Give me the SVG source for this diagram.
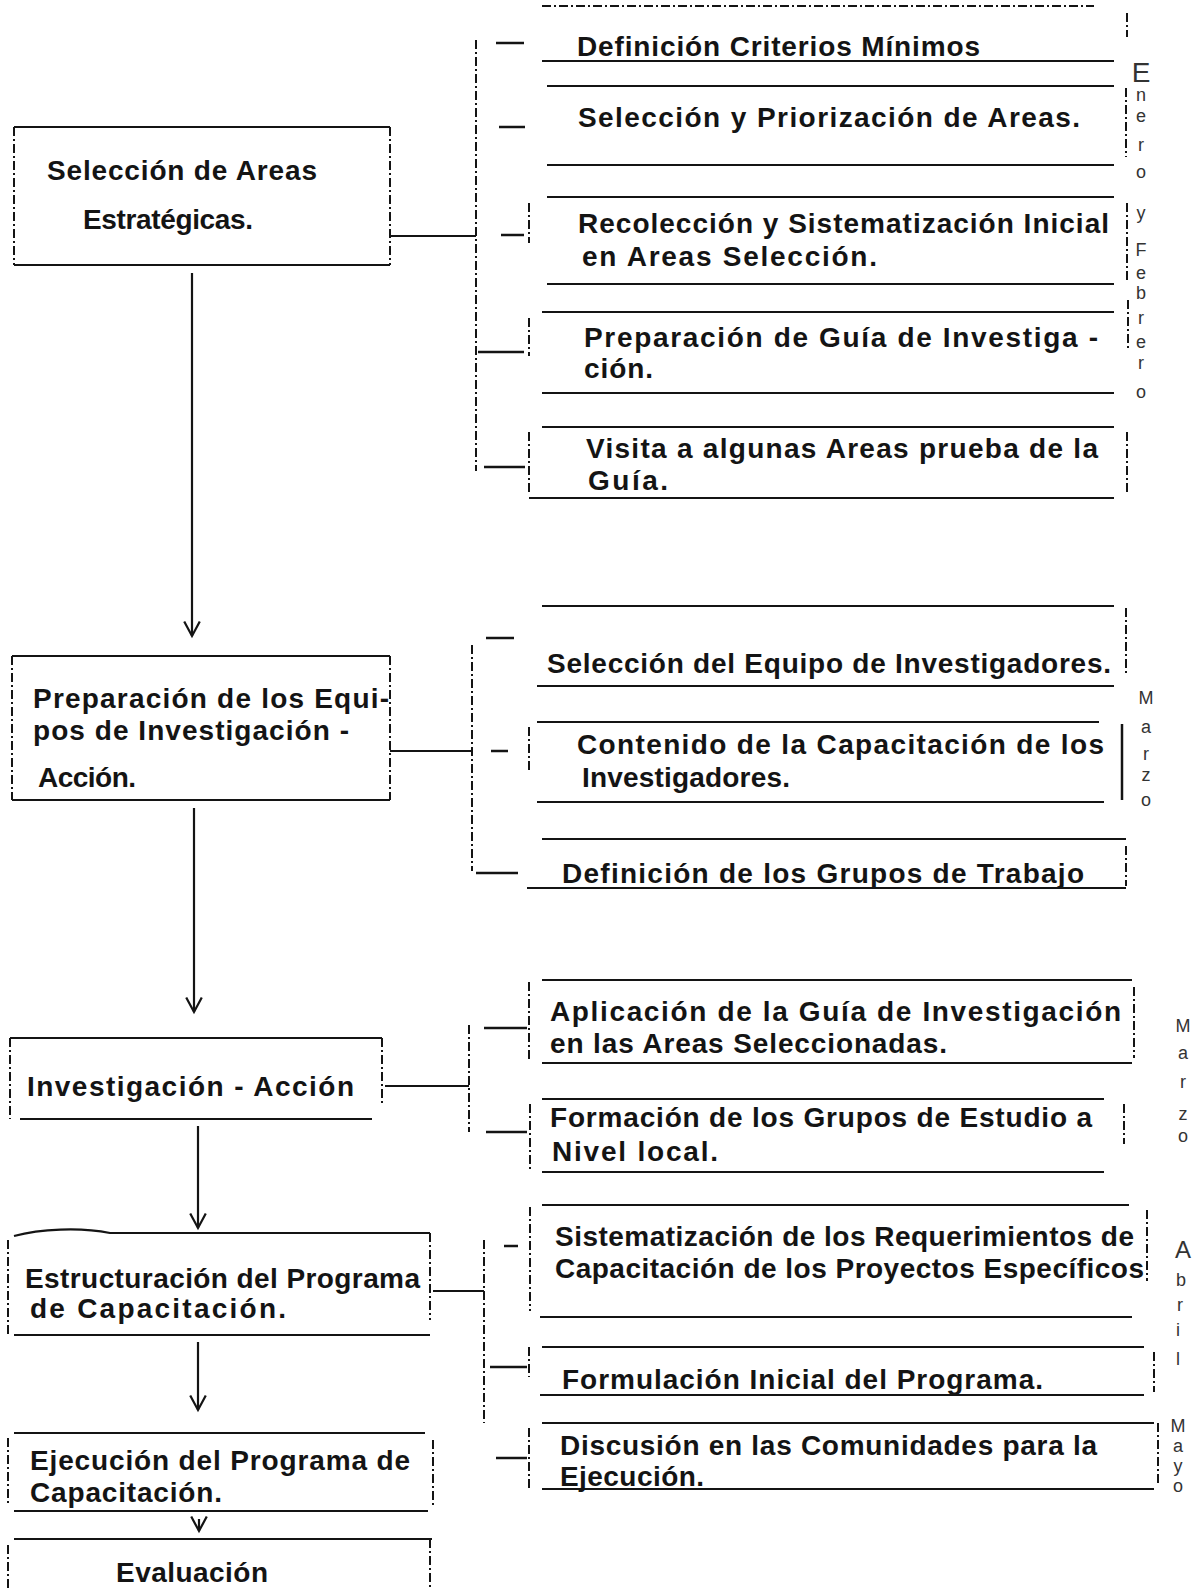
<svg xmlns="http://www.w3.org/2000/svg" width="1195" height="1588" viewBox="0 0 1195 1588">
<style>
.t{font-family:"Liberation Sans",Arial,sans-serif;font-size:28px;font-weight:bold;fill:#141414}
.ln{stroke:#141414;stroke-width:2.2;fill:none}
.dl{stroke:#141414;stroke-width:2;stroke-dasharray:9 3 2 3;fill:none}
.tk{stroke:#141414;stroke-width:2.5;fill:none}
.mo{font-family:"Liberation Sans",Arial,sans-serif;font-size:18px;fill:#333;text-anchor:middle}
</style>
<defs>
<marker id="v" markerUnits="userSpaceOnUse" markerWidth="20" markerHeight="20" viewBox="-14 -9 16 18" refX="0" refY="0" orient="auto" overflow="visible">
<path d="M-13,-7 L0,0 L-13,7" fill="none" stroke="#141414" stroke-width="2"/>
</marker>
</defs>
<rect width="1195" height="1588" fill="#fff"/>

<!-- Left column nodes -->
<g id="n1">
<path class="ln" d="M14,127 H390 M14,265 H390"/>
<path class="dl" d="M14,127 V265 M390,127 V265"/>
<text class="t" x="47" y="180" textLength="270" lengthAdjust="spacing">Selección de Areas</text>
<text class="t" x="83" y="229" textLength="170" lengthAdjust="spacing">Estratégicas.</text>
</g>
<g id="n2">
<path class="ln" d="M12,656 H390 M12,800 H390"/>
<path class="dl" d="M12,656 V800 M390,656 V800"/>
<text class="t" x="33" y="708" textLength="356" lengthAdjust="spacing">Preparación de los Equi-</text>
<text class="t" x="33" y="740" textLength="316" lengthAdjust="spacing">pos de Investigación -</text>
<text class="t" x="38" y="787" textLength="98" lengthAdjust="spacing">Acción.</text>
</g>
<g id="n3">
<path class="ln" d="M10,1038 H382 M20,1119 H372"/>
<path class="dl" d="M10,1038 V1119 M382,1038 V1105"/>
<text class="t" x="27" y="1096" textLength="327" lengthAdjust="spacing">Investigación - Acción</text>
</g>
<g id="n4">
<path class="ln" d="M14,1236 C40,1229 80,1227 110,1233 H430 M14,1335 H430"/>
<path class="dl" d="M8,1240 V1335 M430,1233 V1320"/>
<text class="t" x="25" y="1288" textLength="395" lengthAdjust="spacing">Estructuración del Programa</text>
<text class="t" x="30" y="1318" textLength="256" lengthAdjust="spacing">de Capacitación.</text>
</g>
<g id="n5">
<path class="ln" d="M14,1433 H425 M14,1511 H428"/>
<path class="dl" d="M8,1438 V1505 M433,1440 V1505"/>
<text class="t" x="30" y="1470" textLength="380" lengthAdjust="spacing">Ejecución del Programa de</text>
<text class="t" x="30" y="1502" textLength="192" lengthAdjust="spacing">Capacitación.</text>
</g>
<g id="n6">
<path class="ln" d="M14,1539 H432"/>
<path class="dl" d="M8,1545 V1588 M430,1539 V1588"/>
<text class="t" x="116" y="1582" textLength="152" lengthAdjust="spacing">Evaluación</text>
</g>

<!-- Right column group 1 -->
<g id="r1">
<path class="dl" d="M542,6 H1094 M1127,13 V37"/>
<path class="ln" d="M542,61 H1114"/>
<text class="t" x="577" y="56" textLength="403" lengthAdjust="spacing">Definición Criterios Mínimos</text>
</g>
<g id="r2">
<path class="ln" d="M547,86 H1114 M547,165 H1114"/>
<path class="dl" d="M1126,88 V157"/>
<text class="t" x="578" y="127" textLength="502" lengthAdjust="spacing">Selección y Priorización de Areas.</text>
</g>
<g id="r3">
<path class="ln" d="M547,197 H1114 M547,284 H1114"/>
<path class="dl" d="M529,203 V243 M1127,203 V283"/>
<text class="t" x="578" y="233" textLength="531" lengthAdjust="spacing">Recolección y Sistematización Inicial</text>
<text class="t" x="582" y="266" textLength="295" lengthAdjust="spacing">en Areas Selección.</text>
</g>
<g id="r4">
<path class="ln" d="M542,312 H1114 M542,393 H1114"/>
<path class="dl" d="M529,318 V356 M1128,300 V350"/>
<text class="t" x="584" y="347" textLength="514" lengthAdjust="spacing">Preparación de Guía de Investiga -</text>
<text class="t" x="584" y="378" textLength="69" lengthAdjust="spacing">ción.</text>
</g>
<g id="r5">
<path class="ln" d="M542,427 H1114 M529,498 H1114"/>
<path class="dl" d="M529,432 V492 M1127,432 V492"/>
<text class="t" x="586" y="458" textLength="512" lengthAdjust="spacing">Visita a algunas Areas prueba de la</text>
<text class="t" x="588" y="490" textLength="80" lengthAdjust="spacing">Guía.</text>
</g>

<!-- Right column group 2 -->
<g id="r6">
<path class="ln" d="M542,606 H1114 M537,686 H1114"/>
<path class="dl" d="M1126,608 V673"/>
<text class="t" x="547" y="673" textLength="564" lengthAdjust="spacing">Selección del Equipo de Investigadores.</text>
</g>
<g id="r7">
<path class="ln" d="M537,722 H1099 M537,802 H1104"/>
<path class="dl" d="M529,727 V770"/>
<path class="tk" d="M1122,724 V800"/>
<text class="t" x="577" y="754" textLength="527" lengthAdjust="spacing">Contenido de la Capacitación de los</text>
<text class="t" x="582" y="787" textLength="208" lengthAdjust="spacing">Investigadores.</text>
</g>
<g id="r8">
<path class="ln" d="M542,839 H1126 M527,888 H1126"/>
<path class="dl" d="M1126,846 V886"/>
<text class="t" x="562" y="883" textLength="522" lengthAdjust="spacing">Definición de los Grupos de Trabajo</text>
</g>

<!-- Right column group 3 -->
<g id="r9">
<path class="ln" d="M542,980 H1132 M542,1063 H1132"/>
<path class="dl" d="M529,982 V1061 M1134,987 V1058"/>
<text class="t" x="550" y="1021" textLength="571" lengthAdjust="spacing">Aplicación de la Guía de Investigación</text>
<text class="t" x="550" y="1053" textLength="397" lengthAdjust="spacing">en las Areas Seleccionadas.</text>
</g>
<g id="r10">
<path class="ln" d="M542,1099 H1104 M542,1172 H1104"/>
<path class="dl" d="M530,1104 V1170 M1124,1104 V1144"/>
<text class="t" x="550" y="1127" textLength="542" lengthAdjust="spacing">Formación de los Grupos de Estudio a</text>
<text class="t" x="552" y="1161" textLength="166" lengthAdjust="spacing">Nivel local.</text>
</g>

<!-- Right column group 4 -->
<g id="r11">
<path class="ln" d="M542,1205 H1129 M540,1317 H1132"/>
<path class="dl" d="M530,1207 V1311 M1147,1210 V1281"/>
<text class="t" x="555" y="1246" textLength="579" lengthAdjust="spacing">Sistematización de los Requerimientos de</text>
<text class="t" x="555" y="1278" textLength="589" lengthAdjust="spacing">Capacitación de los Proyectos Específicos</text>
</g>
<g id="r12">
<path class="ln" d="M542,1347 H1144 M540,1395 H1144"/>
<path class="dl" d="M529,1347 V1377 M1154,1352 V1392"/>
<text class="t" x="562" y="1389" textLength="481" lengthAdjust="spacing">Formulación Inicial del Programa.</text>
</g>
<g id="r13">
<path class="ln" d="M542,1423 H1154 M542,1489 H1154"/>
<path class="dl" d="M529,1428 V1489 M1158,1423 V1484"/>
<text class="t" x="560" y="1455" textLength="537" lengthAdjust="spacing">Discusión en las Comunidades para la</text>
<text class="t" x="560" y="1486" textLength="144" lengthAdjust="spacing">Ejecución.</text>
</g>

<!-- Month annotations -->
<g id="m1">
<text class="mo" x="1141" y="82" style="font-size:28px">E</text>
<text class="mo" x="1141" y="101">n</text>
<text class="mo" x="1141" y="122">e</text>
<text class="mo" x="1141" y="151">r</text>
<text class="mo" x="1141" y="178">o</text>
<text class="mo" x="1141" y="219">y</text>
<text class="mo" x="1141" y="256">F</text>
<text class="mo" x="1141" y="279">e</text>
<text class="mo" x="1141" y="299">b</text>
<text class="mo" x="1141" y="324">r</text>
<text class="mo" x="1141" y="348">e</text>
<text class="mo" x="1141" y="369">r</text>
<text class="mo" x="1141" y="398">o</text>
</g>
<g id="m2">
<text class="mo" x="1146" y="704">M</text>
<text class="mo" x="1146" y="733">a</text>
<text class="mo" x="1146" y="760">r</text>
<text class="mo" x="1146" y="781">z</text>
<text class="mo" x="1146" y="806">o</text>
</g>
<g id="m3">
<text class="mo" x="1183" y="1032">M</text>
<text class="mo" x="1183" y="1059">a</text>
<text class="mo" x="1183" y="1088">r</text>
<text class="mo" x="1183" y="1120">z</text>
<text class="mo" x="1183" y="1142">o</text>
</g>
<g id="m4">
<text class="mo" x="1183" y="1258" style="font-size:24px">A</text>
<text class="mo" x="1181" y="1286">b</text>
<text class="mo" x="1180" y="1311">r</text>
<text class="mo" x="1178" y="1336">i</text>
<text class="mo" x="1178" y="1365">l</text>
</g>
<g id="m5">
<text class="mo" x="1178" y="1432">M</text>
<text class="mo" x="1178" y="1452">a</text>
<text class="mo" x="1178" y="1472">y</text>
<text class="mo" x="1178" y="1492">o</text>
</g>

<!-- Connectors -->
<g id="connectors">
<path class="ln" d="M192,273 V636" marker-end="url(#v)"/>
<path class="ln" d="M194,808 V1012" marker-end="url(#v)"/>
<path class="ln" d="M198,1126 V1228" marker-end="url(#v)"/>
<path class="ln" d="M198,1342 V1410" marker-end="url(#v)"/>
<path class="ln" d="M199,1519 V1531" marker-end="url(#v)"/>
<!-- group 1 bracket -->
<path class="ln" d="M390,236 H476"/>
<path class="dl" d="M476,40 V471"/>
<path class="tk" d="M496,43 H524 M499,127 H525 M501,235 H524 M478,352 H524 M484,467 H525"/>
<!-- group 2 bracket -->
<path class="ln" d="M390,751 H472"/>
<path class="dl" d="M472,645 V871"/>
<path class="tk" d="M486,638 H514 M491,751 H508 M476,873 H518"/>
<!-- group 3 bracket -->
<path class="ln" d="M385,1086 H469"/>
<path class="dl" d="M469,1025 V1132"/>
<path class="tk" d="M484,1028 H527 M486,1132 H527"/>
<!-- group 4 bracket -->
<path class="ln" d="M433,1291 H484"/>
<path class="dl" d="M484,1240 V1423"/>
<path class="tk" d="M504,1246 H518 M490,1367 H527 M496,1458 H527"/>
</g>
</svg>
